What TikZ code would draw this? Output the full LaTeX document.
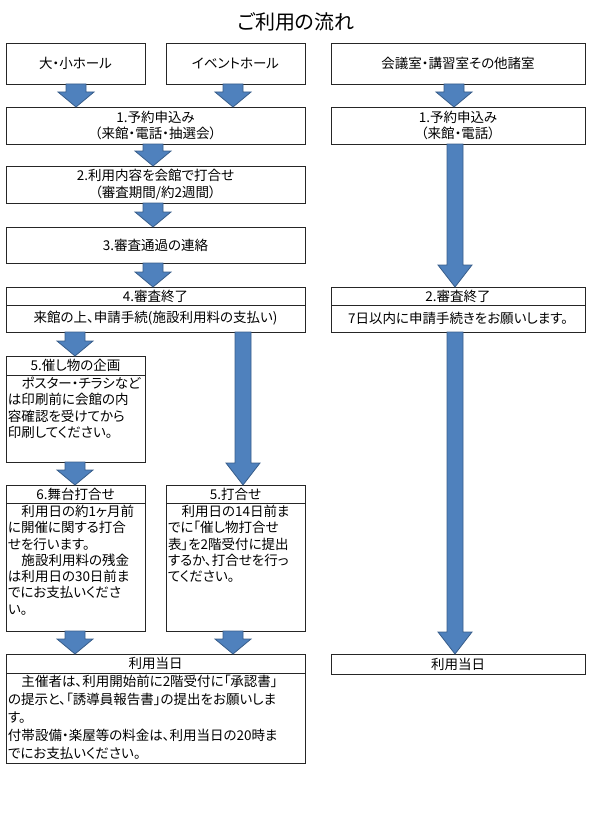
\documentclass[tikz,border=0pt]{standalone}
\usepackage{fontspec}
\setmainfont{Noto Sans CJK JP}[RawFeature=+palt]
\usepackage{xcolor}
\usepackage{tikz}
\usetikzlibrary{
  positioning,
  calc,
}
\definecolor{arrowblue}{HTML}{4F81BD}
\definecolor{arrowedge}{HTML}{385D8A}

% block arrow: x, from, to, half shaft, half head, head length
\newcommand{\flowarrow}[6]{%
  \draw[blk] let \p1=(#2.south), \p2=(#3.north) in
    (#1pt-#4pt,\y1) -- (#1pt+#4pt,\y1) -- (#1pt+#4pt,\y2+#6pt)
    -- (#1pt+#5pt,\y2+#6pt) -- (#1pt,\y2) -- (#1pt-#5pt,\y2+#6pt)
    -- (#1pt-#4pt,\y2+#6pt) -- cycle;
}
\newcommand{\bodytext}[3]{\parbox[c][#1][t]{#2}{#3}}

\begin{document}
\begin{tikzpicture}[
    x=1pt, y=-1pt,
    font=\fontsize{13.5}{16.3}\selectfont,
    box/.style={draw=black!85, line width=0.9pt, rectangle, anchor=north west,
      inner sep=0pt, outer sep=0pt, align=center},
    body/.style={box, anchor=north, inner xsep=2pt, inner ysep=2pt, align=left},
    blk/.style={draw=arrowedge, fill=arrowblue, line width=0.8pt, line join=miter},
  ]
  \useasboundingbox (0,0) rectangle (592,840);
  \node (title) at (296,22) {\fontsize{20}{23}\selectfont ご利用の流れ};

  % top row
  \node[box, minimum width=139pt, minimum height=41pt] (hallL) at (6,43) {大・小ホール};
  \node[box, minimum width=139pt, minimum height=41pt] (hallE) at (166,43) {イベントホール};
  \node[box, minimum width=254pt, minimum height=41pt] (rooms) at (331,43) {会議室・講習室その他諸室};

  \node[box, minimum width=299pt, minimum height=37pt] (applyL) at (6,107) {1.予約申込み\\（来館・電話・抽選会）};
  \node[box, minimum width=254pt, minimum height=37pt] (applyR) at (331,107) {1.予約申込み\\（来館・電話）};
  \node[box, minimum width=299pt, minimum height=37pt] (consult) at (6,166) {2.利用内容を会館で打合せ\\（審査期間/約2週間）};
  \node[box, minimum width=299pt, minimum height=36pt] (notice) at (6,227) {3.審査通過の連絡};

  \node[box, minimum width=299pt, minimum height=18pt] (doneL) at (6,287) {4.審査終了};
  \node[box, minimum width=299pt, minimum height=27pt, below=0pt of doneL] (payL) {来館の上、申請手続(施設利用料の支払い)};
  \node[box, minimum width=254pt, minimum height=18pt] (doneR) at (331,287) {2.審査終了};
  \node[box, minimum width=254pt, minimum height=27pt, below=0pt of doneR] (payR) {7日以内に申請手続きをお願いします。};

  % lower boxes
  \node[box, minimum width=139pt, minimum height=19pt] (plan) at (6,356) {5.催し物の企画};
  \node[body, below=0pt of plan] (planTxt) {\bodytext{83pt}{135pt}{　ポスター・チラシなど\\は印刷前に会館の内\\容確認を受けてから\\印刷してください。}};

  \node[box, minimum width=139pt, minimum height=18pt] (stage) at (6,485) {6.舞台打合せ};
  \node[body, below=0pt of stage] (stageTxt) {\bodytext{124pt}{135pt}{　利用日の約1ヶ月前\\に開催に関する打合\\せを行います。\\　施設利用料の残金\\は利用日の30日前ま\\でにお支払いくださ\\い。}};

  \node[box, minimum width=139pt, minimum height=18pt] (talk) at (166,485) {5.打合せ};
  \node[body, below=0pt of talk] (talkTxt) {\bodytext{124pt}{135pt}{　利用日の14日前ま\\でに「催し物打合せ\\表」を2階受付に提出\\するか、打合せを行っ\\てください。}};

  \node[box, minimum width=299pt, minimum height=19pt] (dayL) at (6,654) {利用当日};
  \node[body, below=0pt of dayL] (dayLTxt) {\bodytext{86pt}{295pt}{\fontsize{13.5}{18}\selectfont　主催者は、利用開始前に2階受付に「承認書」\\の提示と、「誘導員報告書」の提出をお願いしま\\す。\\付帯設備・楽屋等の料金は、利用当日の20時ま\\でにお支払いください。}};
  \node[box, minimum width=254pt, minimum height=20pt] (dayR) at (331,654) {利用当日};

  % arrows
  \flowarrow{76}{hallL}{applyL}{10}{18}{15}
  \flowarrow{233}{hallE}{applyL}{10}{18}{15}
  \flowarrow{454}{rooms}{applyR}{10}{18}{15}
  \flowarrow{153}{applyL}{consult}{10}{18}{15}
  \flowarrow{153}{consult}{notice}{10}{18}{15}
  \flowarrow{153}{notice}{doneL}{10}{18}{15}
  \flowarrow{455}{applyR}{doneR}{8}{17}{22}
  \flowarrow{75}{payL}{plan}{10}{18}{15}
  \flowarrow{243}{payL}{talk}{8}{17}{22}
  \flowarrow{75}{planTxt}{stage}{10}{18}{15}
  \flowarrow{455}{payR}{dayR}{8}{17}{22}
  \flowarrow{75}{stageTxt}{dayL}{10}{18}{15}
  \flowarrow{233}{talkTxt}{dayL}{10}{18}{15}
\end{tikzpicture}
\end{document}
